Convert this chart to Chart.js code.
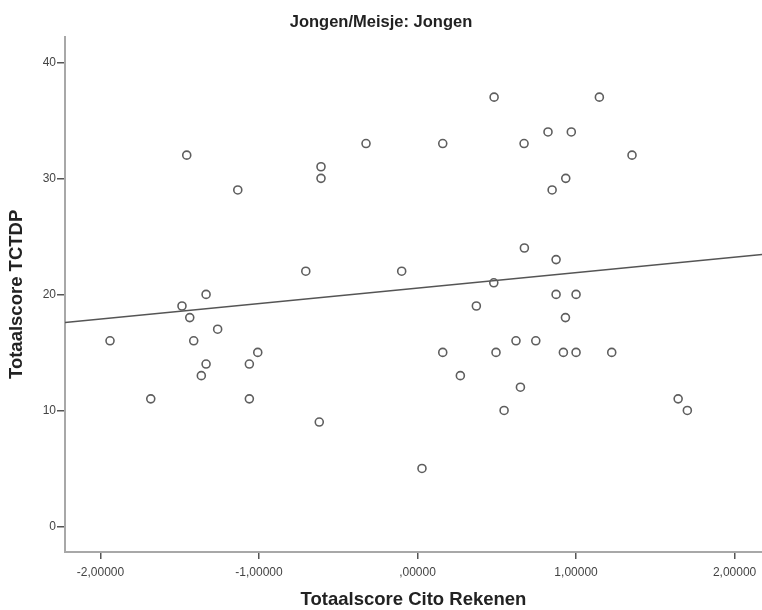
<!DOCTYPE html>
<html>
<head>
<meta charset="utf-8">
<title>Jongen/Meisje: Jongen</title>
<script src="https://cdn.jsdelivr.net/npm/chart.js@4.4.1/dist/chart.umd.min.js"></script>
<style>
  html, body { margin: 0; padding: 0; background: #fff; }
  #wrap { width: 762px; height: 610px; }
</style>
</head>
<body>
<div id="wrap"><canvas id="scatterChart"></canvas></div>
<script>
// Totaalscore Cito Rekenen (x) vs Totaalscore TCTDP (y), jongens
const citoScores = [
  -1.456, -1.134, -0.609, -0.609, -0.325,
  0.483, 1.147, 0.159, 0.672, 0.823, 0.970, 1.353, 0.935, 0.849,
  -0.705, -1.334, -1.486, -1.437, -1.261, -1.940, -1.412, -1.008,
  -1.334, -1.061, -1.364, -1.683, -1.061,
  -0.100, 0.674, 0.874, 0.481, 0.874, 1.000, 0.371, 0.933, 0.621,
  0.746, 0.159, 0.495, 0.920, 1.000, 1.225, 0.270, 0.649, 1.644,
  -0.620, 0.546, 1.702, 0.028,
];
const tctdpScores = [
  32, 29, 31, 30, 33,
  37, 37, 33, 33, 34, 34, 32, 30, 29,
  22, 20, 19, 18, 17, 16, 16, 15,
  14, 14, 13, 11, 11,
  22, 24, 23, 21, 20, 20, 19, 18, 16,
  16, 15, 15, 15, 15, 15, 13, 12, 11,
  9, 10, 10, 5,
];

// lineaire fit (eindpunten op de randen van de x-as)
const fitX = [-2.224, 2.173];
const fitY = [17.58, 23.43];

const xTicks = [-2, -1, 0, 1, 2];
const xTickLabels = ["-2,00000", "-1,00000", ",00000", "1,00000", "2,00000"];
const yTicks = [0, 10, 20, 30, 40];

const points = citoScores.map((x, i) => ({ x, y: tctdpScores[i] }));
const fitLine = fitX.map((x, i) => ({ x, y: fitY[i] }));

const fontFamily = "'Liberation Sans', Arial, sans-serif";
const axisColor = "#a8a8a8";
const tickColor = "#555";
const labelFont = { family: fontFamily, size: 12 };
const titleFont = { family: fontFamily, size: 18.5, weight: "bold", lineHeight: 1.1 };

const config = {
  type: "scatter",
  data: {
    datasets: [
      {
        label: "Jongen",
        data: points,
        pointStyle: "circle",
        pointRadius: 4,
        pointBackgroundColor: "rgba(255,255,255,0)",
        pointBorderColor: "#5e5e5e",
        pointBorderWidth: 1.6,
      },
      {
        label: "Fit",
        type: "line",
        data: fitLine,
        showLine: true,
        borderColor: "#555",
        borderWidth: 1.5,
        pointRadius: 0,
        fill: false,
      },
    ],
  },
  options: {
    responsive: true,
    maintainAspectRatio: false,
    animation: false,
    layout: { padding: 0, autoPadding: false },
    plugins: {
      legend: { display: false },
      tooltip: { enabled: false },
      title: {
        display: true,
        text: "Jongen/Meisje: Jongen",
        color: "#222",
        font: { family: fontFamily, size: 16.5, weight: "bold" },
        padding: { top: 13, bottom: 4 },
      },
    },
    scales: {
      x: {
        type: "linear",
        min: -2.224,
        max: 2.173,
        afterBuildTicks: (scale) => {
          scale.ticks = xTicks.map((value) => ({ value }));
        },
        afterFit: (scale) => {
          scale.height = 58;
          scale.paddingLeft = 0;
          scale.paddingRight = 0;
        },
        ticks: {
          color: "#444",
          font: labelFont,
          padding: 6,
          maxRotation: 0,
          callback: (value) => xTickLabels[xTicks.indexOf(value)],
        },
        grid: {
          drawOnChartArea: false,
          drawTicks: true,
          tickLength: 7,
          color: tickColor,
          lineWidth: 1.5,
        },
        border: { display: true, color: axisColor, width: 2 },
        title: {
          display: true,
          text: "Totaalscore Cito Rekenen",
          color: "#222",
          font: titleFont,
          padding: { top: 0, bottom: 0 },
        },
      },
      y: {
        type: "linear",
        min: -2.2,
        max: 42.2,
        afterBuildTicks: (scale) => {
          scale.ticks = yTicks.map((value) => ({ value }));
        },
        afterFit: (scale) => {
          scale.width = 65;
        },
        ticks: {
          color: "#444",
          font: labelFont,
          padding: 1,
        },
        grid: {
          drawOnChartArea: false,
          drawTicks: true,
          tickLength: 8,
          color: tickColor,
          lineWidth: 1.5,
        },
        border: { display: true, color: axisColor, width: 2 },
        title: {
          display: true,
          text: "Totaalscore TCTDP",
          color: "#222",
          font: titleFont,
          padding: { top: 7, bottom: 0 },
        },
      },
    },
  },
};

const scatterChart = document.getElementById("scatterChart");

new Chart(scatterChart, config);
</script>
</body>
</html>
